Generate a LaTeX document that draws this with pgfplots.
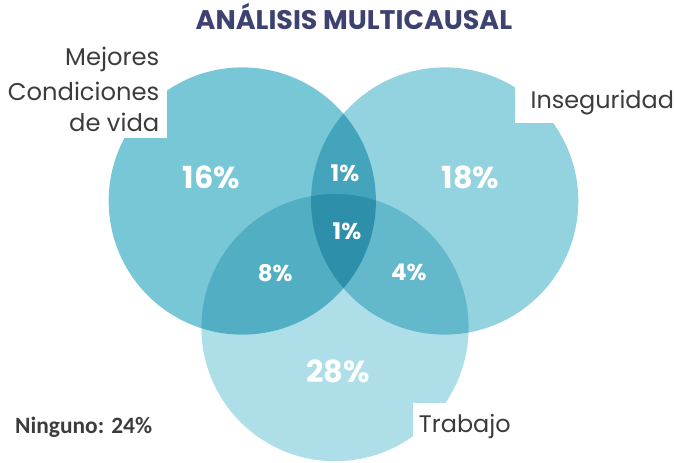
\documentclass[border=0pt]{standalone}
\usepackage{fontspec}
\setmainfont{Poppins}
\newfontfamily\calib{Carlito}
\usepackage{pgfplots}
\pgfplotsset{compat=1.18}
\definecolor{cL}{RGB}{119,199,215}
\definecolor{cR}{RGB}{147,211,224}
\definecolor{cB}{RGB}{174,223,232}
\definecolor{titlec}{RGB}{62,66,112}
\definecolor{labc}{RGB}{60,60,60}
\pgfplotsset{venn/.style={
  scale only axis, width=674bp, height=465bp,
  xmin=0, xmax=674, ymin=0, ymax=465, y dir=reverse,
  hide axis, clip=false}}
\begin{document}
\begin{tikzpicture}
\begin{scope}[blend group=multiply]
\begin{axis}[venn]
% circles (centre of each set, radius in bp)
\addplot[cL, only marks, mark=*, mark size=134bp, mark options={fill=cL, draw=white, draw opacity=0}] coordinates {(243,203)};
\addplot[cR, only marks, mark=*, mark size=134bp, mark options={fill=cR, draw=white, draw opacity=0}] coordinates {(446,203)};
\addplot[cB, only marks, mark=*, mark size=134bp, mark options={fill=cB, draw=white, draw opacity=0}] coordinates {(336,330)};
\end{axis}
\end{scope}
\begin{axis}[venn]
% white label boxes
\fill[white] (axis cs:0,40) rectangle (axis cs:167,140);
\fill[white] (axis cs:517,75) rectangle (axis cs:674,125);
\fill[white] (axis cs:414,406) rectangle (axis cs:674,465);
% title
\node[anchor=center, text=titlec, font=\fontsize{27bp}{30bp}\selectfont\bfseries] at (axis cs:355,18) {ANÁLISIS MULTICAUSAL};
% set labels
\node[anchor=base east, text=labc, font=\fontsize{24.3bp}{28bp}\selectfont, inner sep=0pt] at (axis cs:160,67) {Mejores};
\node[anchor=base east, text=labc, font=\fontsize{24.3bp}{28bp}\selectfont, inner sep=0pt] at (axis cs:160,102) {Condiciones};
\node[anchor=base east, text=labc, font=\fontsize{24.3bp}{28bp}\selectfont, inner sep=0pt] at (axis cs:160,133) {de vida};
\node[anchor=base west, text=labc, font=\fontsize{24bp}{28bp}\selectfont, inner sep=0pt] at (axis cs:532,110) {Inseguridad};
\node[anchor=base west, text=labc, font=\fontsize{24bp}{28bp}\selectfont, inner sep=0pt] at (axis cs:420,435) {Trabajo};
% percentages
\node[text=white, font=\fontsize{30.5bp}{34bp}\selectfont\bfseries, inner sep=0pt] at (axis cs:212,179) {16\%};
\node[text=white, font=\fontsize{30.5bp}{34bp}\selectfont\bfseries, inner sep=0pt] at (axis cs:472,179) {18\%};
\node[text=white, font=\fontsize{30.5bp}{34bp}\selectfont\bfseries, inner sep=0pt] at (axis cs:339,374) {28\%};
\node[text=white, font=\fontsize{23bp}{27bp}\selectfont\bfseries, inner sep=0pt] at (axis cs:346,175) {1\%};
\node[text=white, font=\fontsize{23bp}{27bp}\selectfont\bfseries, inner sep=0pt] at (axis cs:348,233) {1\%};
\node[text=white, font=\fontsize{23bp}{27bp}\selectfont\bfseries, inner sep=0pt] at (axis cs:276,275) {8\%};
\node[text=white, font=\fontsize{23bp}{27bp}\selectfont\bfseries, inner sep=0pt] at (axis cs:410,275) {4\%};
% none
\node[anchor=base west, text=labc, font=\fontsize{23.5bp}{27bp}\selectfont\calib\bfseries, inner sep=0pt] at (axis cs:15,436) {Ninguno: 24\%};
\end{axis}
\end{tikzpicture}
\end{document}
